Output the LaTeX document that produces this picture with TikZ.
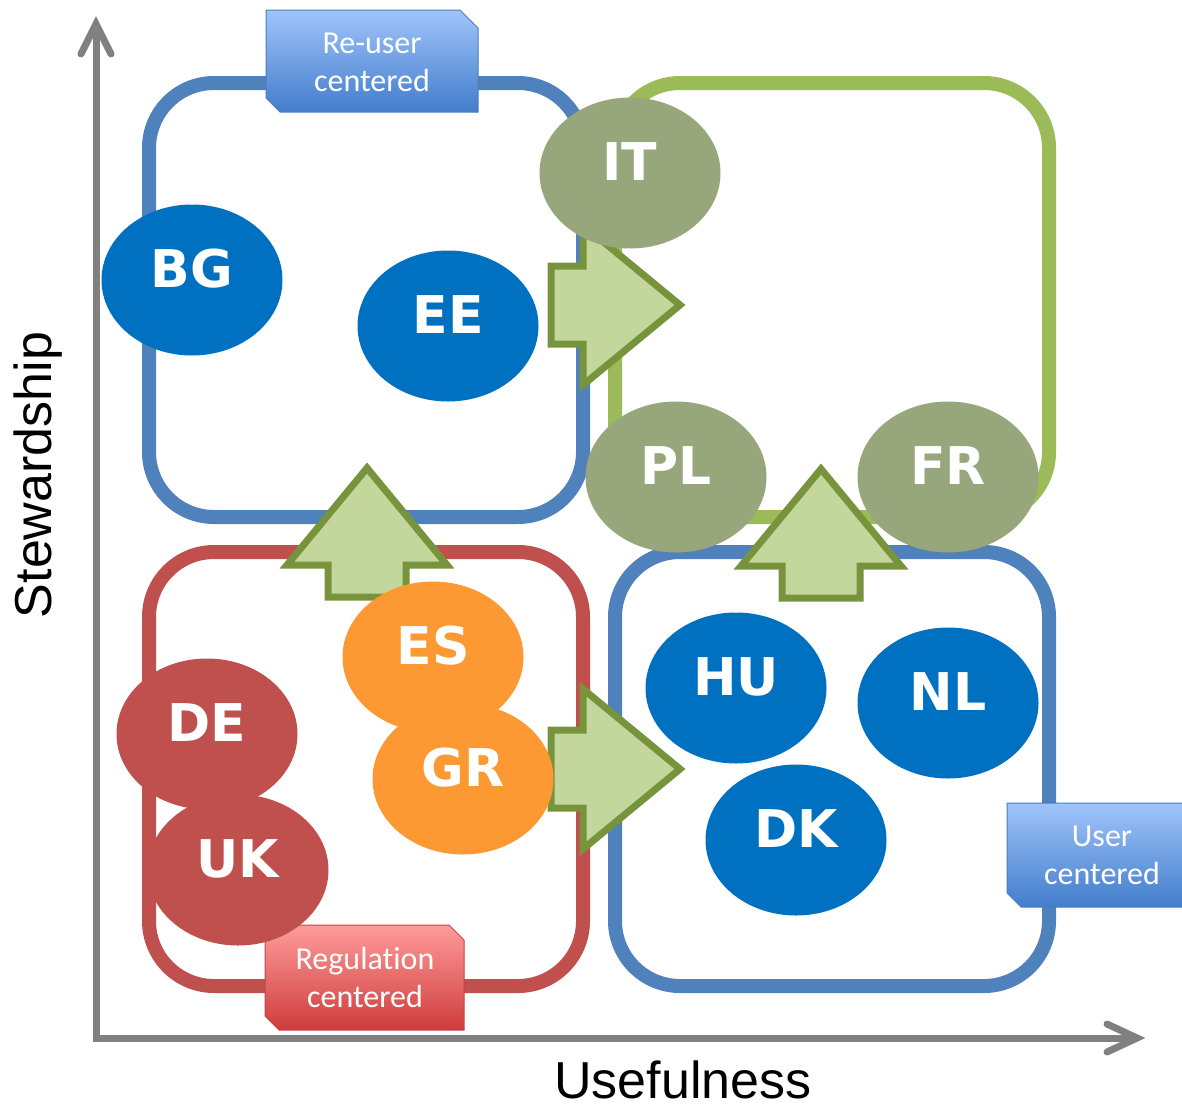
\documentclass[tikz,border=0pt]{standalone}
\usepackage{fontspec}
\setmainfont{Liberation Sans}
\newfontfamily\cfont{DejaVu Sans}
\newfontfamily\lfont[Ligatures=CommonOff]{Carlito}
\usetikzlibrary{shapes.geometric,calc}
\definecolor{boxblue}{RGB}{79,129,189}
\definecolor{boxgreen}{RGB}{155,187,89}
\definecolor{boxred}{RGB}{192,80,77}
\definecolor{cblue}{RGB}{0,112,192}
\definecolor{cgreen}{RGB}{152,166,124}
\definecolor{cred}{RGB}{192,80,77}
\definecolor{corange}{RGB}{253,153,51}
\definecolor{arrowfill}{RGB}{195,214,155}
\definecolor{arrowline}{RGB}{119,147,60}
\definecolor{axisgray}{RGB}{128,128,128}
\definecolor{tagbluetop}{RGB}{160,196,250}
\definecolor{tagbluebot}{RGB}{66,125,204}
\definecolor{tagblueline}{RGB}{74,126,192}
\definecolor{tagredtop}{RGB}{255,155,155}
\definecolor{tagredbot}{RGB}{207,60,60}
\definecolor{tagredline}{RGB}{190,70,70}
\newcommand\country[5]{%
  \node[cty, fill=#4] (#1) at (#2,#3) {};
  \node[ctytxt] (#1t) at ([yshift=11pt]#1.center) {#5};}
\newcommand\uparr[3]{%
  \draw[blockarrow, shift={(#2,#3)}] (0,0) coordinate (#1)
    -- (80,97) -- (39,97) -- (39,129) -- (-39,129) -- (-39,97) -- (-80,97) -- cycle;}
\newcommand\rightarr[3]{%
  \draw[blockarrow, shift={(#2,#3)}] (0,0) coordinate (#1)
    -- (-97,80) -- (-97,39) -- (-129,39) -- (-129,-39) -- (-97,-39) -- (-97,-80) -- cycle;}
\begin{document}
\begin{tikzpicture}[x=1pt,y=-1pt,
  cbox/.style={draw, line width=14pt, rounded corners=65pt, minimum width=434pt, minimum height=434pt, inner sep=0pt},
  cty/.style={ellipse, minimum width=181pt, minimum height=151pt, inner sep=0pt},
  ctytxt/.style={text=white, font=\cfont\bfseries\fontsize{52}{52}\selectfont, inner sep=0pt},
  blockarrow/.style={fill=arrowfill, draw=arrowline, line width=7pt, line join=miter},
  tagtxt/.style={text=white, font=\lfont\fontsize{32}{38}\selectfont, align=center, inner sep=0pt},
  axis/.style={draw=axisgray, line width=7pt},
  axlabel/.style={font=\fontsize{52}{60}\selectfont, inner sep=0pt}]
\useasboundingbox (0,0) rectangle (1182,1111);
\fill[white] (0,0) rectangle (1182,1111);
\clip (0,0) rectangle (1182,1111);

% axes
\coordinate (ytip) at (96,24);
\coordinate (xtip) at (1137,1038);
\coordinate (orig) at (96,1038);
\draw[axis, line join=miter] (ytip) -- (orig) -- (xtip);
\draw[axis, line cap=round, line join=miter] ($(ytip)+(-15,30)$) -- (ytip) -- ($(ytip)+(15,30)$);
\draw[axis, line cap=round, line join=miter] ($(xtip)+(-30,-14)$) -- (xtip) -- ($(xtip)+(-30,14)$);
\node[axlabel, rotate=90] (ylab) at (38,475) {Stewardship};
\node[axlabel] (xlab) at (683,1080) {Usefulness};

% quadrant boxes
\node[cbox, draw=boxblue] (tl) at (366,300) {};
\node[cbox, draw=boxgreen] (tr) at (832,300) {};
\node[cbox, draw=boxred] (bl) at (366,769) {};
\node[cbox, draw=boxblue] (br) at (832,769) {};

% tags
\shade[top color=tagbluetop, bottom color=tagbluebot, draw=tagblueline, line width=1pt]
  (266,10) -- (460,10) -- (478,28) -- (478,112) -- (280,112) -- (266,98) -- cycle;
\node[tagtxt] (reuser) at (372,62) {Re-user\\centered};
\shade[top color=tagredtop, bottom color=tagredbot, draw=tagredline, line width=1pt]
  (265,925) -- (449,925) -- (464,940) -- (464,1030) -- (279,1030) -- (265,1016) -- cycle;
\node[tagtxt] (regul) at (365,977) {Regulation\\centered};
\shade[top color=tagbluetop, bottom color=tagbluebot, draw=tagblueline, line width=1pt]
  (1007,803) -- (1200,803) -- (1200,907) -- (1021,907) -- (1007,893) -- cycle;
\node[tagtxt] (user) at (1102,855) {User\\centered};

% block arrows
\rightarr{a1}{680}{305}
\rightarr{a2}{680}{769}
\uparr{a3}{367}{468}
\uparr{a4}{821}{469}

% countries
\country{BG}{192}{280}{cblue}{BG}
\country{EE}{448}{326}{cblue}{EE}
\country{IT}{630}{173}{cgreen}{IT}
\country{PL}{676}{477}{cgreen}{PL}
\country{FR}{948}{477}{cgreen}{FR}
\country{ES}{433}{657}{corange}{ES}
\country{GR}{463}{779}{corange}{GR}
\country{DE}{207}{734}{cred}{DE}
\country{UK}{238}{870}{cred}{UK}
\country{HU}{736}{688}{cblue}{HU}
\country{NL}{948}{703}{cblue}{NL}
\country{DK}{796}{840}{cblue}{DK}
\end{tikzpicture}
\end{document}
